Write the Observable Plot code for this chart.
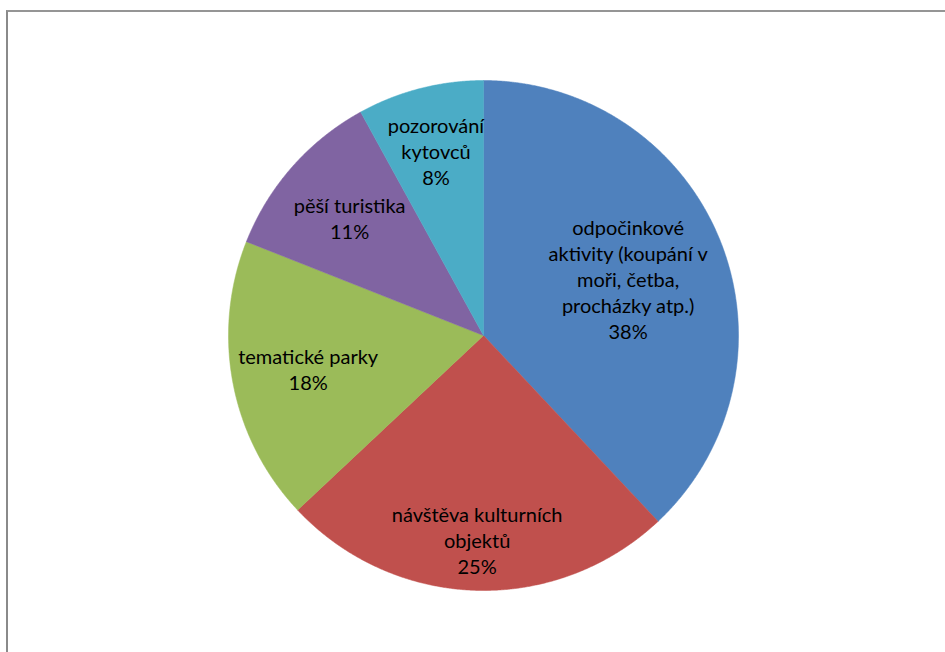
<!DOCTYPE html>
<html>
<head>
<meta charset="utf-8">
<script src="https://cdn.jsdelivr.net/npm/d3@7"></script>
<script src="https://cdn.jsdelivr.net/npm/@observablehq/plot@0.6"></script>
<style>
  html, body { margin: 0; padding: 0; background: #fff; }
  #wrap { position: relative; width: 945px; height: 652px; overflow: hidden; background: #fff; }
  #wrap svg { position: absolute; left: 0; top: 0; }
  #border { position: absolute; left: 6px; top: 10px; width: 2000px; height: 2000px;
            border-top: 2px solid #959595; border-left: 2px solid #8a8a8a; pointer-events: none; }
</style>
</head>
<body>
<div id="wrap"><div id="border"></div></div>
<script>
// ---- data ----
const categories = [
  "odpočinkové aktivity (koupání v moři, četba, procházky atp.)",
  "návštěva kulturních objektů",
  "tematické parky",
  "pěší turistika",
  "pozorování kytovců"
];
const values = [38, 25, 18, 11, 8];
const labelLines = [
  "odpočinkové\naktivity (koupání v\nmoři, četba,\nprocházky atp.)",
  "návštěva kulturních\nobjektů",
  "tematické parky",
  "pěší turistika",
  "pozorování\nkytovců"
];
const colors = ["#4F81BD", "#C0504D", "#9BBB59", "#8064A2", "#4BACC6"];

// ---- layout (label distance from centre as fraction of radius) ----
const labelRadius = [0.61, 0.80, 0.70, 0.70, 0.75];

const rows = categories.map((c, i) => ({category: c, value: values[i], label: labelLines[i] + "\n" + values[i] + "%", i}));
const arcs = d3.pie().sort(null).value(d => d.value)(rows);

// polygon outline for each slice (unit circle, y up)
const slicePts = [];
for (const a of arcs) {
  const n = Math.max(2, Math.ceil((a.endAngle - a.startAngle) / (Math.PI / 720)));
  slicePts.push({category: a.data.category, x: 0, y: 0});
  for (let k = 0; k <= n; k++) {
    const t = a.startAngle + (a.endAngle - a.startAngle) * k / n;
    slicePts.push({category: a.data.category, x: Math.sin(t), y: Math.cos(t)});
  }
  slicePts.push({category: a.data.category, x: 0, y: 0});
}

const labels = arcs.map(a => {
  const m = (a.startAngle + a.endAngle) / 2;
  const r = labelRadius[a.data.i];
  return {label: a.data.label, x: r * Math.sin(m), y: r * Math.cos(m)};
});

const chart = Plot.plot({
  width: 945,
  height: 652,
  marginLeft: 228,
  marginRight: 207,
  marginTop: 80,
  marginBottom: 62,
  style: {background: "transparent", fontFamily: "Lato, 'Open Sans', sans-serif"},
  x: {domain: [-1, 1], axis: null},
  y: {domain: [-1, 1], axis: null},
  color: {domain: categories, range: colors},
  marks: [
    Plot.line(slicePts, {x: "x", y: "y", z: "category", fill: "category", stroke: "category", strokeWidth: 0.5, curve: "linear"}),
    Plot.text(labels, {x: "x", y: "y", text: "label", fontSize: 20, lineHeight: 1.3, fill: "#000", textAnchor: "middle"})
  ]
});
document.getElementById("wrap").insertBefore(chart, document.getElementById("border"));
</script>
</body>
</html>
